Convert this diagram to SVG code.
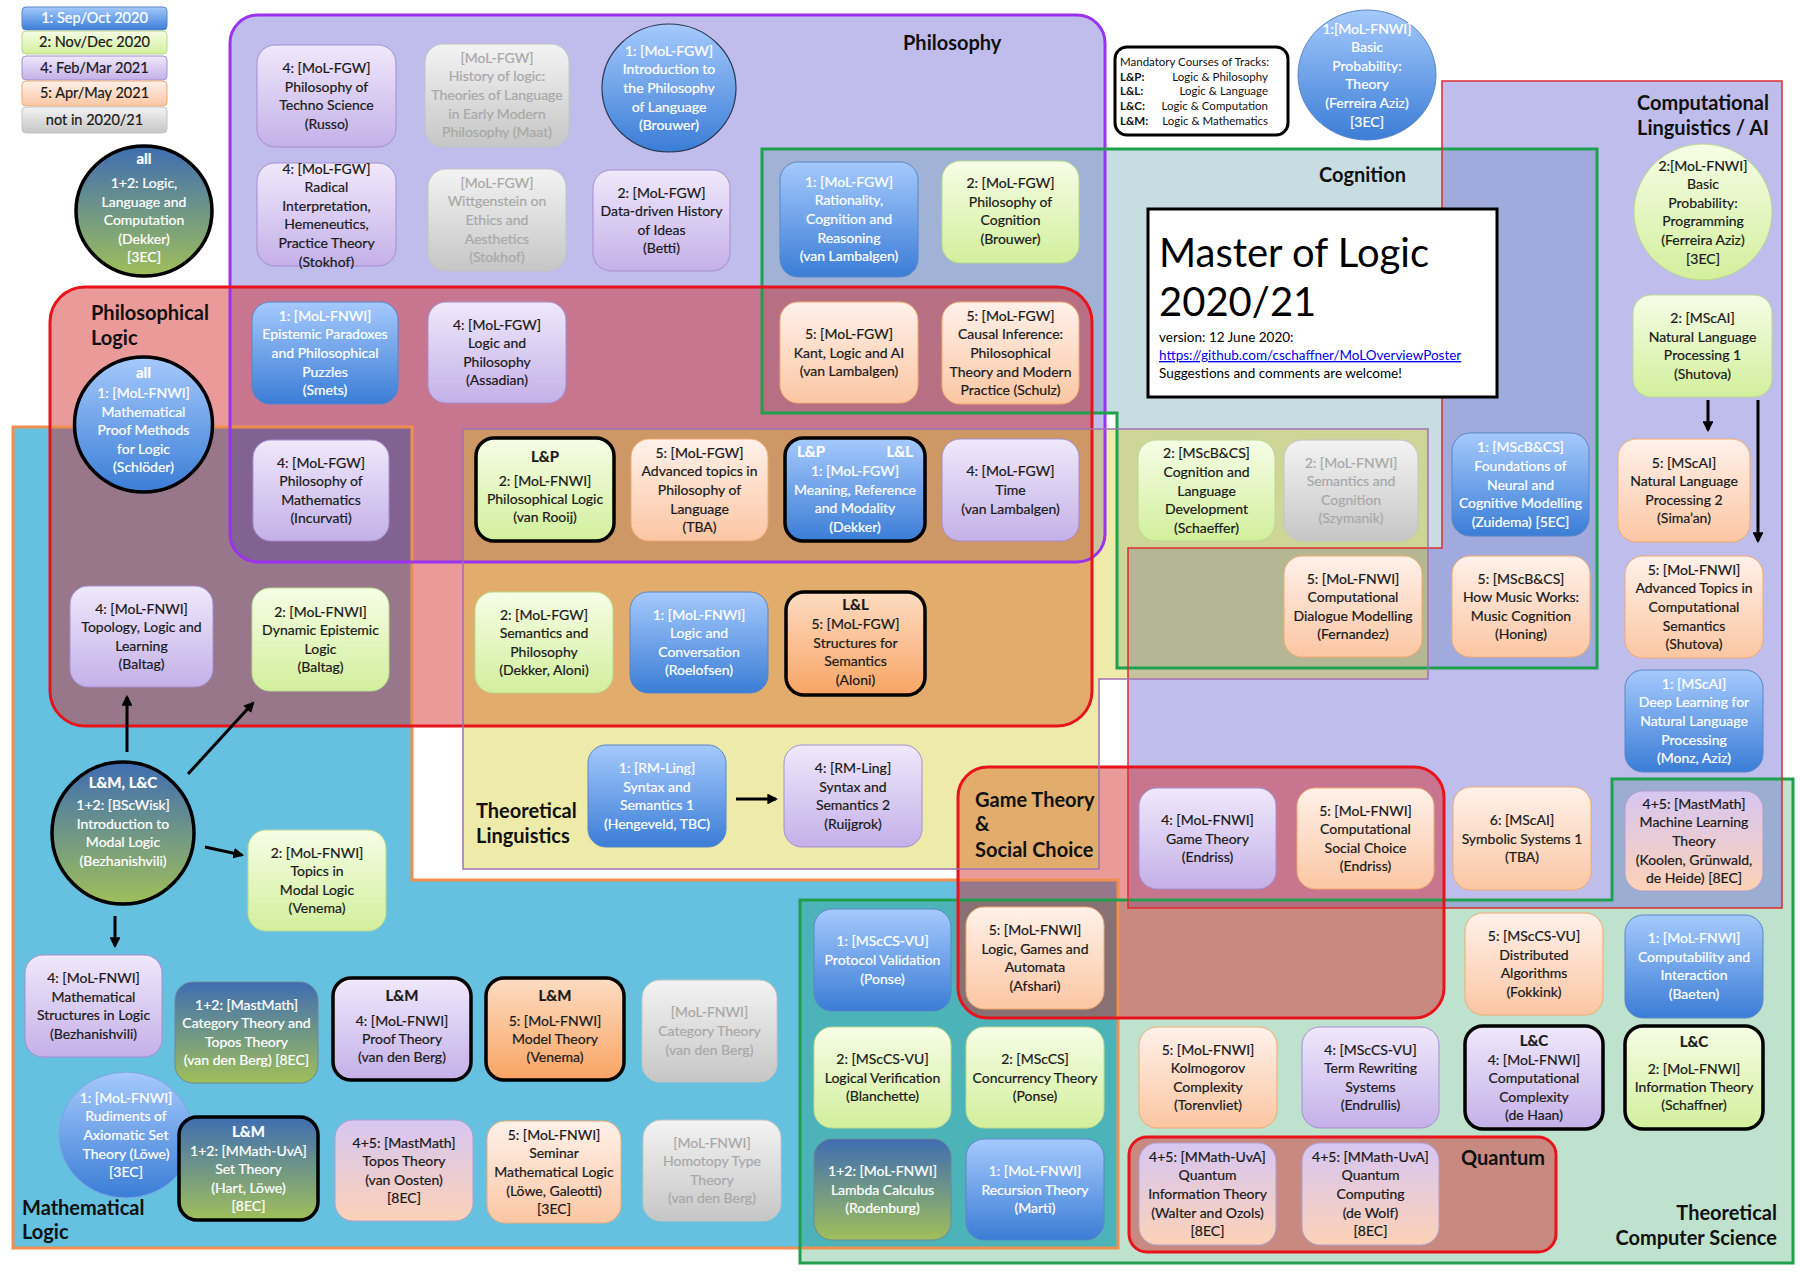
<svg xmlns="http://www.w3.org/2000/svg" width="1800" height="1272" viewBox="0 0 1800 1272">
<defs>
<linearGradient id="g1" x1="0" y1="0" x2="0" y2="1"><stop offset="0" stop-color="#a5c9fc"/><stop offset="1" stop-color="#3b7dd6"/></linearGradient>
<linearGradient id="g2" x1="0" y1="0" x2="0" y2="1"><stop offset="0" stop-color="#f6fde6"/><stop offset="1" stop-color="#d2ef9c"/></linearGradient>
<linearGradient id="g4" x1="0" y1="0" x2="0" y2="1"><stop offset="0" stop-color="#f0e8fb"/><stop offset="1" stop-color="#c4b0e8"/></linearGradient>
<linearGradient id="g5" x1="0" y1="0" x2="0" y2="1"><stop offset="0" stop-color="#fff1ea"/><stop offset="1" stop-color="#fbc6a3"/></linearGradient>
<linearGradient id="g5o" x1="0" y1="0" x2="0" y2="1"><stop offset="0" stop-color="#fddcc2"/><stop offset="1" stop-color="#f8a464"/></linearGradient>
<linearGradient id="gG" x1="0" y1="0" x2="0" y2="1"><stop offset="0" stop-color="#f3f3f3"/><stop offset="1" stop-color="#c6c6c6"/></linearGradient>
<linearGradient id="g12" x1="0" y1="0" x2="0" y2="1"><stop offset="0" stop-color="#3f6db2"/><stop offset="1" stop-color="#a0bf5a"/></linearGradient>
<linearGradient id="g45" x1="0" y1="0" x2="0" y2="1"><stop offset="0" stop-color="#d6c6f2"/><stop offset="1" stop-color="#fcd1b6"/></linearGradient>
<marker id="ah" viewBox="0 0 10 10" refX="8" refY="5" markerWidth="3.6" markerHeight="3.6" orient="auto"><path d="M0,0 L10,5 L0,10 z" fill="#000"/></marker>
<style>
.t{font-family:Lato,"Open Sans","Liberation Sans",sans-serif;font-size:14px;text-anchor:middle;fill:#1a1a1a;stroke:#1a1a1a;stroke-width:0.22}
.w{fill:#fff;stroke:#fff}
.gr{fill:#a9a9a9;stroke:#a9a9a9}
.bd{font-weight:bold;font-size:15px}
.lbl{font-family:Lato,"Liberation Sans",sans-serif;font-weight:bold;font-size:20px;fill:#111}
.m{font-family:Lato,"Liberation Sans",sans-serif;font-size:11.5px;fill:#111}
.mb{font-weight:bold}
.s1{fill:url(#g1);stroke:#5a86c6;stroke-width:1}
.s2{fill:url(#g2);stroke:#b9d98f;stroke-width:1}
.s4{fill:url(#g4);stroke:#a48fd0;stroke-width:1}
.s5{fill:url(#g5);stroke:#f0aa70;stroke-width:1}
.s5o{fill:url(#g5o);stroke:#f0aa70;stroke-width:1}
.sG{fill:url(#gG);stroke:#c4c4c4;stroke-width:1}
.s12{fill:url(#g12);stroke:#6a8a9a;stroke-width:1}
.s45{fill:url(#g45);stroke:#b0a0d0;stroke-width:1}
.k{stroke:#000;stroke-width:3.5}
.arr{stroke:#000;stroke-width:3;fill:none;marker-end:url(#ah)}
</style>
</defs>
<rect width="1800" height="1272" fill="#fff"/>

<g id="regions">
<path d="M13,427H412V880H1118V1248H13Z" fill="#66c0e0"/>
<rect x="230" y="15" width="875" height="547" rx="28" fill="rgb(150,143,223)" fill-opacity="0.6"/>
<path d="M762,149H1597V668H1117V413H762Z" fill="rgb(104,162,175)" fill-opacity="0.365"/>
<path d="M800,900H1612V779H1793V1263H800Z" fill="rgb(0,140,64)" fill-opacity="0.25"/>
<path d="M1442,81H1782V908H1128V548H1442Z" fill="rgb(108,103,211)" fill-opacity="0.436"/>
<rect x="50" y="287" width="1042" height="439" rx="35" fill="rgb(211,31,31)" fill-opacity="0.45"/>
<rect x="958" y="767" width="486" height="251" rx="30" fill="rgb(211,31,31)" fill-opacity="0.45"/>
<path d="M463,429H1428V679H1099V869H463Z" fill="rgb(212,202,40)" fill-opacity="0.4"/>
<rect x="1129" y="1137" width="427" height="115" rx="18" fill="rgb(211,31,31)" fill-opacity="0.45"/>
<path d="M231,428H411V561H258A27,27 0 0 1 231,534Z" fill="rgb(60,90,160)" fill-opacity="0.35"/>
</g>
<g id="region-borders">
<path d="M13,427H412V880H1118V1248H13Z" stroke="#ef8f4f" stroke-width="3" fill="none"/>
<rect x="230" y="15" width="875" height="547" rx="28" stroke="#9a32f0" stroke-width="3" fill="none"/>
<path d="M762,149H1597V668H1117V413H762Z" stroke="#1fa04e" stroke-width="3" fill="none"/>
<path d="M800,900H1612V779H1793V1263H800Z" stroke="#20a04f" stroke-width="3" fill="none"/>
<path d="M1442,81H1782V908H1128V548H1442Z" stroke="#dd2c2c" stroke-width="1.5" fill="none"/>
<rect x="50" y="287" width="1042" height="439" rx="35" stroke="#e8131b" stroke-width="3" fill="none"/>
<rect x="958" y="767" width="486" height="251" rx="30" stroke="#e8131b" stroke-width="3" fill="none"/>
<path d="M463,429H1428V679H1099V869H463Z" stroke="#a072b4" stroke-width="1.5" fill="none"/>
<rect x="1129" y="1137" width="427" height="115" rx="18" stroke="#e8131b" stroke-width="3" fill="none"/>
</g>
<g id="region-labels">
<text class="lbl" x="903" y="50">Philosophy</text>
<text class="lbl" x="91" y="320">Philosophical</text><text class="lbl" x="91" y="345">Logic</text>
<text class="lbl" x="476" y="818">Theoretical</text><text class="lbl" x="476" y="843">Linguistics</text>
<text class="lbl" x="1319" y="182">Cognition</text>
<text class="lbl" x="1769" y="110" text-anchor="end">Computational</text><text class="lbl" x="1769" y="135" text-anchor="end">Linguistics / AI</text>
<text class="lbl" x="975" y="807">Game Theory</text><text class="lbl" x="975" y="831">&amp;</text><text class="lbl" x="975" y="857">Social Choice</text>
<text class="lbl" x="1461" y="1165">Quantum</text>
<text class="lbl" x="1777" y="1220" text-anchor="end">Theoretical</text><text class="lbl" x="1777" y="1245" text-anchor="end">Computer Science</text>
<text class="lbl" x="22" y="1215">Mathematical</text><text class="lbl" x="22" y="1239">Logic</text>
</g>

<g id="legend">
<rect x="22" y="7" width="145" height="23" rx="4" class="s1"/><text class="t w" style="font-size:14.5px" x="94.5" y="23">1: Sep/Oct 2020</text>
<rect x="22" y="31" width="145" height="23" rx="4" class="s2"/><text class="t" style="font-size:14.5px" x="94.5" y="47">2: Nov/Dec 2020</text>
<rect x="22" y="56" width="145" height="24" rx="4" class="s4"/><text class="t" style="font-size:14.5px" x="94.5" y="73">4: Feb/Mar 2021</text>
<rect x="22" y="81" width="145" height="25" rx="4" class="s5"/><text class="t" style="font-size:14.5px" x="94.5" y="98">5: Apr/May 2021</text>
<rect x="22" y="107" width="145" height="26" rx="4" class="sG"/><text class="t" style="font-size:14.5px" x="94.5" y="125">not in 2020/21</text>
</g>

<g id="title">
<rect x="1148" y="209" width="349" height="188" fill="#fff" stroke="#000" stroke-width="3"/>
<text x="1159" y="267" style="font-family:Lato,'Liberation Sans',sans-serif;font-size:40px;fill:#000">Master of Logic</text>
<text x="1159" y="316" style="font-family:Lato,'Liberation Sans',sans-serif;font-size:40px;fill:#000">2020/21</text>
<text x="1159" y="342" style="font-family:Lato,'Liberation Sans',sans-serif;font-size:13.5px;fill:#000">version: 12 June 2020:</text>
<text x="1159" y="360" style="font-family:Lato,'Liberation Sans',sans-serif;font-size:13.5px;fill:#0000ee;text-decoration:underline">https://github.com/cschaffner/MoLOverviewPoster</text>
<text x="1159" y="378" style="font-family:Lato,'Liberation Sans',sans-serif;font-size:13.5px;fill:#000">Suggestions and comments are welcome!</text>
</g>

<g id="tracks">
<rect x="1115" y="47" width="173" height="88" rx="12" fill="#fff" stroke="#000" stroke-width="3"/>
<text class="m" x="1120" y="66">Mandatory  Courses of Tracks:</text>
<text class="m mb" x="1120" y="81">L&amp;P:</text><text class="m" x="1268" y="81" text-anchor="end">Logic &amp; Philosophy</text>
<text class="m mb" x="1120" y="95">L&amp;L:</text><text class="m" x="1268" y="95" text-anchor="end">Logic &amp; Language</text>
<text class="m mb" x="1120" y="110">L&amp;C:</text><text class="m" x="1268" y="110" text-anchor="end">Logic &amp; Computation</text>
<text class="m mb" x="1120" y="125">L&amp;M:</text><text class="m" x="1268" y="125" text-anchor="end">Logic &amp; Mathematics</text>
</g>

<g id="n-llc"><ellipse cx="144" cy="211" rx="68" ry="65" class="s12 k"/><text class="t w bd" x="144" y="164">all</text><text class="t w" x="144" y="188">1+2: Logic,<tspan x="144" dy="18.6">Language and</tspan><tspan x="144" dy="18.6">Computation</tspan><tspan x="144" dy="18.6">(Dekker)</tspan><tspan x="144" dy="18.6">[3EC]</tspan></text></g>

<g id="n-russo"><rect x="257" y="45" width="139" height="102" rx="18" class="s4"/><text class="t" x="326.5" y="73.1">4: [MoL-FGW]<tspan x="326.5" dy="18.6">Philosophy of</tspan><tspan x="326.5" dy="18.6">Techno Science</tspan><tspan x="326.5" dy="18.6">(Russo)</tspan></text></g>
<g id="n-radical"><rect x="257" y="163" width="139" height="103" rx="18" class="s4"/><text class="t" x="326.5" y="173.5">4: [MoL-FGW]<tspan x="326.5" dy="18.6">Radical</tspan><tspan x="326.5" dy="18.6">Interpretation,</tspan><tspan x="326.5" dy="18.6">Hemeneutics,</tspan><tspan x="326.5" dy="18.6">Practice Theory</tspan><tspan x="326.5" dy="18.6">(Stokhof)</tspan></text></g>
<g id="n-history"><rect x="425" y="44" width="144" height="103" rx="18" class="sG"/><text class="t gr" x="497" y="62.8">[MoL-FGW]<tspan x="497" dy="18.6">History of logic:</tspan><tspan x="497" dy="18.6">Theories of Language</tspan><tspan x="497" dy="18.6">in Early Modern</tspan><tspan x="497" dy="18.6">Philosophy (Maat)</tspan></text></g>
<g id="n-intro-phil-lang"><ellipse cx="669" cy="88" rx="67" ry="64" fill="url(#g1)" stroke="#2a3a55" stroke-width="1.2"/><text class="t w" x="669" y="55.8">1: [MoL-FGW]<tspan x="669" dy="18.6">Introduction to</tspan><tspan x="669" dy="18.6">the Philosophy</tspan><tspan x="669" dy="18.6">of Language</tspan><tspan x="669" dy="18.6">(Brouwer)</tspan></text></g>
<g id="n-wittgenstein"><rect x="428" y="169" width="138" height="102" rx="18" class="sG"/><text class="t gr" x="497" y="187.8">[MoL-FGW]<tspan x="497" dy="18.6">Wittgenstein on</tspan><tspan x="497" dy="18.6">Ethics and</tspan><tspan x="497" dy="18.6">Aesthetics</tspan><tspan x="497" dy="18.6">(Stokhof)</tspan></text></g>
<g id="n-datadriven"><rect x="593" y="170" width="137" height="101" rx="18" class="s4"/><text class="t" x="661.5" y="197.6">2: [MoL-FGW]<tspan x="661.5" dy="18.6">Data-driven History</tspan><tspan x="661.5" dy="18.6">of Ideas</tspan><tspan x="661.5" dy="18.6">(Betti)</tspan></text></g>
<g id="n-rationality"><rect x="780" y="162" width="138" height="115" rx="18" class="s1"/><text class="t w" x="849" y="186.8">1: [MoL-FGW]<tspan x="849" dy="18.6">Rationality,</tspan><tspan x="849" dy="18.6">Cognition and</tspan><tspan x="849" dy="18.6">Reasoning</tspan><tspan x="849" dy="18.6">(van Lambalgen)</tspan></text></g>
<g id="n-phil-cognition"><rect x="942" y="161" width="137" height="102" rx="18" class="s2"/><text class="t" x="1010.5" y="188.1">2: [MoL-FGW]<tspan x="1010.5" dy="18.6">Philosophy of</tspan><tspan x="1010.5" dy="18.6">Cognition</tspan><tspan x="1010.5" dy="18.6">(Brouwer)</tspan></text></g>

<g id="n-proof-methods"><ellipse cx="143.5" cy="424.5" rx="69" ry="67.5" class="s1 k"/><text class="t w bd" x="143.5" y="377.5">all</text><text class="t w" x="143.5" y="398">1: [MoL-FNWI]<tspan x="143.5" dy="18.6">Mathematical</tspan><tspan x="143.5" dy="18.6">Proof Methods</tspan><tspan x="143.5" dy="18.6">for Logic</tspan><tspan x="143.5" dy="18.6">(Schlöder)</tspan></text></g>
<g id="n-epistemic"><rect x="252" y="302" width="146" height="102" rx="18" class="s1"/><text class="t w" x="325" y="320.8">1: [MoL-FNWI]<tspan x="325" dy="18.6">Epistemic Paradoxes</tspan><tspan x="325" dy="18.6">and Philosophical</tspan><tspan x="325" dy="18.6">Puzzles</tspan><tspan x="325" dy="18.6">(Smets)</tspan></text></g>
<g id="n-logic-phil"><rect x="428" y="302" width="138" height="101" rx="18" class="s4"/><text class="t" x="497" y="329.6">4: [MoL-FGW]<tspan x="497" dy="18.6">Logic and</tspan><tspan x="497" dy="18.6">Philosophy</tspan><tspan x="497" dy="18.6">(Assadian)</tspan></text></g>
<g id="n-kant"><rect x="780" y="302" width="138" height="101" rx="18" class="s5"/><text class="t" x="849" y="338.9">5: [MoL-FGW]<tspan x="849" dy="18.6">Kant, Logic and AI</tspan><tspan x="849" dy="18.6">(van Lambalgen)</tspan></text></g>
<g id="n-causal"><rect x="942" y="302" width="137" height="102" rx="18" class="s5"/><text class="t" x="1010.5" y="320.8">5: [MoL-FGW]<tspan x="1010.5" dy="18.6">Causal Inference:</tspan><tspan x="1010.5" dy="18.6">Philosophical</tspan><tspan x="1010.5" dy="18.6">Theory and Modern</tspan><tspan x="1010.5" dy="18.6">Practice (Schulz)</tspan></text></g>
<g id="n-phil-math"><rect x="253" y="440" width="136" height="101" rx="18" class="s4"/><text class="t" x="321" y="467.6">4: [MoL-FGW]<tspan x="321" dy="18.6">Philosophy of</tspan><tspan x="321" dy="18.6">Mathematics</tspan><tspan x="321" dy="18.6">(Incurvati)</tspan></text></g>
<g id="n-topology"><rect x="70" y="586" width="143" height="101" rx="18" class="s4"/><text class="t" x="141.5" y="613.6">4: [MoL-FNWI]<tspan x="141.5" dy="18.6">Topology, Logic and</tspan><tspan x="141.5" dy="18.6">Learning</tspan><tspan x="141.5" dy="18.6">(Baltag)</tspan></text></g>
<g id="n-del"><rect x="252" y="588" width="137" height="103" rx="18" class="s2"/><text class="t" x="320.5" y="616.6">2: [MoL-FNWI]<tspan x="320.5" dy="18.6">Dynamic Epistemic</tspan><tspan x="320.5" dy="18.6">Logic</tspan><tspan x="320.5" dy="18.6">(Baltag)</tspan></text></g>

<g id="n-phil-logic"><rect x="476" y="438" width="138" height="103" rx="18" class="s2 k"/><text class="t bd" x="545" y="461.5">L&amp;P</text><text class="t" x="545" y="486">2: [MoL-FNWI]<tspan x="545" dy="18">Philosophical Logic</tspan><tspan x="545" dy="18">(van Rooij)</tspan></text></g>
<g id="n-adv-phil-lang"><rect x="631" y="439" width="137" height="102" rx="18" class="s5"/><text class="t" x="699.5" y="457.8">5: [MoL-FGW]<tspan x="699.5" dy="18.6">Advanced topics in</tspan><tspan x="699.5" dy="18.6">Philosophy of</tspan><tspan x="699.5" dy="18.6">Language</tspan><tspan x="699.5" dy="18.6">(TBA)</tspan></text></g>
<g id="n-meaning"><rect x="785" y="438" width="140" height="103" rx="18" class="s1 k"/><text class="t w bd" x="797" y="457" style="text-anchor:start">L&amp;P</text><text class="t w bd" x="913" y="457" style="text-anchor:end">L&amp;L</text><text class="t w" x="855" y="476">1: [MoL-FGW]<tspan x="855" dy="18.5">Meaning, Reference</tspan><tspan x="855" dy="18.5">and Modality</tspan><tspan x="855" dy="18.5">(Dekker)</tspan></text></g>
<g id="n-time"><rect x="942" y="439" width="137" height="102" rx="18" class="s4"/><text class="t" x="1010.5" y="476.4">4: [MoL-FGW]<tspan x="1010.5" dy="18.6">Time</tspan><tspan x="1010.5" dy="18.6">(van Lambalgen)</tspan></text></g>
<g id="n-sem-phil"><rect x="475" y="592" width="138" height="101" rx="18" class="s2"/><text class="t" x="544" y="619.6">2: [MoL-FGW]<tspan x="544" dy="18.6">Semantics and</tspan><tspan x="544" dy="18.6">Philosophy</tspan><tspan x="544" dy="18.6">(Dekker, Aloni)</tspan></text></g>
<g id="n-logic-conv"><rect x="630" y="592" width="138" height="101" rx="18" class="s1"/><text class="t w" x="699" y="619.6">1: [MoL-FNWI]<tspan x="699" dy="18.6">Logic and</tspan><tspan x="699" dy="18.6">Conversation</tspan><tspan x="699" dy="18.6">(Roelofsen)</tspan></text></g>
<g id="n-structures"><rect x="786" y="592" width="139" height="103" rx="18" class="s5o k"/><text class="t bd" x="855.5" y="609.5">L&amp;L</text><text class="t" x="855.5" y="629">5: [MoL-FGW]<tspan x="855.5" dy="18.7">Structures for</tspan><tspan x="855.5" dy="18.7">Semantics</tspan><tspan x="855.5" dy="18.7">(Aloni)</tspan></text></g>
<g id="n-syntax1"><rect x="588" y="745" width="138" height="102" rx="18" class="s1"/><text class="t w" x="657" y="773.1">1: [RM-Ling]<tspan x="657" dy="18.6">Syntax and</tspan><tspan x="657" dy="18.6">Semantics 1</tspan><tspan x="657" dy="18.6">(Hengeveld, TBC)</tspan></text></g>
<g id="n-syntax2"><rect x="784" y="745" width="138" height="102" rx="18" class="s4"/><text class="t" x="853" y="773.1">4: [RM-Ling]<tspan x="853" dy="18.6">Syntax and</tspan><tspan x="853" dy="18.6">Semantics 2</tspan><tspan x="853" dy="18.6">(Ruijgrok)</tspan></text></g>

<g id="n-cog-lang"><rect x="1138" y="440" width="137" height="101" rx="18" class="s2"/><text class="t" x="1206.5" y="458.3">2: [MScB&amp;CS]<tspan x="1206.5" dy="18.6">Cognition and</tspan><tspan x="1206.5" dy="18.6">Language</tspan><tspan x="1206.5" dy="18.6">Development</tspan><tspan x="1206.5" dy="18.6">(Schaeffer)</tspan></text></g>
<g id="n-sem-cog"><rect x="1284" y="440" width="134" height="101" rx="18" class="sG"/><text class="t gr" x="1351" y="467.6">2: [MoL-FNWI]<tspan x="1351" dy="18.6">Semantics and</tspan><tspan x="1351" dy="18.6">Cognition</tspan><tspan x="1351" dy="18.6">(Szymanik)</tspan></text></g>
<g id="n-dialogue"><rect x="1284" y="556" width="138" height="101" rx="18" class="s5"/><text class="t" x="1353" y="583.6">5: [MoL-FNWI]<tspan x="1353" dy="18.6">Computational</tspan><tspan x="1353" dy="18.6">Dialogue Modelling</tspan><tspan x="1353" dy="18.6">(Fernandez)</tspan></text></g>
<g id="n-neural"><rect x="1452" y="433" width="137" height="103" rx="18" class="s1"/><text class="t w" x="1520.5" y="452.3">1: [MScB&amp;CS]<tspan x="1520.5" dy="18.6">Foundations of</tspan><tspan x="1520.5" dy="18.6">Neural and</tspan><tspan x="1520.5" dy="18.6">Cognitive Modelling</tspan><tspan x="1520.5" dy="18.6">(Zuidema) [5EC]</tspan></text></g>
<g id="n-music"><rect x="1452" y="556" width="138" height="101" rx="18" class="s5"/><text class="t" x="1521" y="583.6">5: [MScB&amp;CS]<tspan x="1521" dy="18.6">How Music Works:</tspan><tspan x="1521" dy="18.6">Music Cognition</tspan><tspan x="1521" dy="18.6">(Honing)</tspan></text></g>

<g id="n-prob-theory"><ellipse cx="1367" cy="75" rx="69" ry="65" fill="url(#g1)" stroke="#5a86c6" stroke-width="1"/><text class="t w" x="1367" y="33.5">1:[MoL-FNWI]<tspan x="1367" dy="18.6">Basic</tspan><tspan x="1367" dy="18.6">Probability:</tspan><tspan x="1367" dy="18.6">Theory</tspan><tspan x="1367" dy="18.6">(Ferreira Aziz)</tspan><tspan x="1367" dy="18.6">[3EC]</tspan></text></g>
<g id="n-prob-prog"><ellipse cx="1703" cy="212" rx="69" ry="68" class="s2"/><text class="t" x="1703" y="170.5">2:[MoL-FNWI]<tspan x="1703" dy="18.6">Basic</tspan><tspan x="1703" dy="18.6">Probability:</tspan><tspan x="1703" dy="18.6">Programming</tspan><tspan x="1703" dy="18.6">(Ferreira Aziz)</tspan><tspan x="1703" dy="18.6">[3EC]</tspan></text></g>
<g id="n-nlp1"><rect x="1633" y="295" width="139" height="102" rx="18" class="s2"/><text class="t" x="1702.5" y="323.1">2: [MScAI]<tspan x="1702.5" dy="18.6">Natural Language</tspan><tspan x="1702.5" dy="18.6">Processing 1</tspan><tspan x="1702.5" dy="18.6">(Shutova)</tspan></text></g>
<g id="n-nlp2"><rect x="1618" y="439" width="132" height="103" rx="18" class="s5"/><text class="t" x="1684" y="467.6">5: [MScAI]<tspan x="1684" dy="18.6">Natural Language</tspan><tspan x="1684" dy="18.6">Processing 2</tspan><tspan x="1684" dy="18.6">(Sima’an)</tspan></text></g>
<g id="n-adv-comp-sem"><rect x="1625" y="556" width="138" height="102" rx="18" class="s5"/><text class="t" x="1694" y="574.8">5: [MoL-FNWI]<tspan x="1694" dy="18.6">Advanced Topics in</tspan><tspan x="1694" dy="18.6">Computational</tspan><tspan x="1694" dy="18.6">Semantics</tspan><tspan x="1694" dy="18.6">(Shutova)</tspan></text></g>
<g id="n-deep"><rect x="1625" y="670" width="138" height="102" rx="18" class="s1"/><text class="t w" x="1694" y="688.8">1: [MScAI]<tspan x="1694" dy="18.6">Deep Learning for</tspan><tspan x="1694" dy="18.6">Natural Language</tspan><tspan x="1694" dy="18.6">Processing</tspan><tspan x="1694" dy="18.6">(Monz, Aziz)</tspan></text></g>
<g id="n-ml-theory"><rect x="1625" y="791" width="138" height="100" rx="18" class="s45"/><text class="t" x="1694" y="808.8">4+5: [MastMath]<tspan x="1694" dy="18.6">Machine Learning</tspan><tspan x="1694" dy="18.6">Theory</tspan><tspan x="1694" dy="18.6">(Koolen, Grünwald,</tspan><tspan x="1694" dy="18.6">de Heide) [8EC]</tspan></text></g>

<g id="n-game-theory"><rect x="1139" y="788" width="137" height="101" rx="18" class="s4"/><text class="t" x="1207.5" y="824.9">4: [MoL-FNWI]<tspan x="1207.5" dy="18.6">Game Theory</tspan><tspan x="1207.5" dy="18.6">(Endriss)</tspan></text></g>
<g id="n-comsoc"><rect x="1297" y="788" width="137" height="101" rx="18" class="s5"/><text class="t" x="1365.5" y="815.6">5: [MoL-FNWI]<tspan x="1365.5" dy="18.6">Computational</tspan><tspan x="1365.5" dy="18.6">Social Choice</tspan><tspan x="1365.5" dy="18.6">(Endriss)</tspan></text></g>
<g id="n-symbolic"><rect x="1453" y="787" width="138" height="103" rx="18" class="s5"/><text class="t" x="1522" y="824.9">6: [MScAI]<tspan x="1522" dy="18.6">Symbolic Systems 1</tspan><tspan x="1522" dy="18.6">(TBA)</tspan></text></g>

<g id="n-protocol"><rect x="814" y="909" width="137" height="102" rx="18" class="s1"/><text class="t w" x="882.5" y="946.4">1: [MScCS-VU]<tspan x="882.5" dy="18.6">Protocol Validation</tspan><tspan x="882.5" dy="18.6">(Ponse)</tspan></text></g>
<g id="n-lga"><rect x="966" y="907" width="138" height="102" rx="18" class="s5"/><text class="t" x="1035" y="935.1">5: [MoL-FNWI]<tspan x="1035" dy="18.6">Logic, Games and</tspan><tspan x="1035" dy="18.6">Automata</tspan><tspan x="1035" dy="18.6">(Afshari)</tspan></text></g>
<g id="n-logver"><rect x="814" y="1027" width="137" height="101" rx="18" class="s2"/><text class="t" x="882.5" y="1063.9">2: [MScCS-VU]<tspan x="882.5" dy="18.6">Logical Verification</tspan><tspan x="882.5" dy="18.6">(Blanchette)</tspan></text></g>
<g id="n-concurrency"><rect x="966" y="1027" width="138" height="101" rx="18" class="s2"/><text class="t" x="1035" y="1063.9">2: [MScCS]<tspan x="1035" dy="18.6">Concurrency Theory</tspan><tspan x="1035" dy="18.6">(Ponse)</tspan></text></g>
<g id="n-lambda"><rect x="814" y="1139" width="137" height="101" rx="18" class="s12"/><text class="t w" x="882.5" y="1175.9">1+2: [MoL-FNWI]<tspan x="882.5" dy="18.6">Lambda Calculus</tspan><tspan x="882.5" dy="18.6">(Rodenburg)</tspan></text></g>
<g id="n-recursion"><rect x="966" y="1139" width="138" height="101" rx="18" class="s1"/><text class="t w" x="1035" y="1175.9">1: [MoL-FNWI]<tspan x="1035" dy="18.6">Recursion Theory</tspan><tspan x="1035" dy="18.6">(Marti)</tspan></text></g>
<g id="n-kolmogorov"><rect x="1139" y="1027" width="138" height="101" rx="18" class="s5"/><text class="t" x="1208" y="1054.6">5: [MoL-FNWI]<tspan x="1208" dy="18.6">Kolmogorov</tspan><tspan x="1208" dy="18.6">Complexity</tspan><tspan x="1208" dy="18.6">(Torenvliet)</tspan></text></g>
<g id="n-term-rewriting"><rect x="1302" y="1027" width="137" height="101" rx="18" class="s4"/><text class="t" x="1370.5" y="1054.6">4: [MScCS-VU]<tspan x="1370.5" dy="18.6">Term Rewriting</tspan><tspan x="1370.5" dy="18.6">Systems</tspan><tspan x="1370.5" dy="18.6">(Endrullis)</tspan></text></g>
<g id="n-distributed"><rect x="1465" y="913" width="138" height="102" rx="18" class="s5"/><text class="t" x="1534" y="941.1">5: [MScCS-VU]<tspan x="1534" dy="18.6">Distributed</tspan><tspan x="1534" dy="18.6">Algorithms</tspan><tspan x="1534" dy="18.6">(Fokkink)</tspan></text></g>
<g id="n-computability"><rect x="1625" y="915" width="138" height="103" rx="18" class="s1"/><text class="t w" x="1694" y="943.1">1: [MoL-FNWI]<tspan x="1694" dy="18.6">Computability and</tspan><tspan x="1694" dy="18.6">Interaction</tspan><tspan x="1694" dy="18.6">(Baeten)</tspan></text></g>
<g id="n-complexity"><rect x="1465" y="1026" width="138" height="103" rx="18" class="s4 k"/><text class="t bd" x="1534" y="1045.5">L&amp;C</text><text class="t" x="1534" y="1065">4: [MoL-FNWI]<tspan x="1534" dy="18.4">Computational</tspan><tspan x="1534" dy="18.4">Complexity</tspan><tspan x="1534" dy="18.4">(de Haan)</tspan></text></g>
<g id="n-info-theory"><rect x="1625" y="1026" width="138" height="103" rx="18" class="s2 k"/><text class="t bd" x="1694" y="1046.5">L&amp;C</text><text class="t" x="1694" y="1074">2: [MoL-FNWI]<tspan x="1694" dy="18">Information Theory</tspan><tspan x="1694" dy="18">(Schaffner)</tspan></text></g>
<g id="n-qit"><rect x="1139" y="1143" width="137" height="102" rx="18" class="s45"/><text class="t" x="1207.5" y="1161.8">4+5: [MMath-UvA]<tspan x="1207.5" dy="18.6">Quantum</tspan><tspan x="1207.5" dy="18.6">Information Theory</tspan><tspan x="1207.5" dy="18.6">(Walter and Ozols)</tspan><tspan x="1207.5" dy="18.6">[8EC]</tspan></text></g>
<g id="n-qc"><rect x="1302" y="1143" width="137" height="102" rx="18" class="s45"/><text class="t" x="1370.5" y="1161.8">4+5: [MMath-UvA]<tspan x="1370.5" dy="18.6">Quantum</tspan><tspan x="1370.5" dy="18.6">Computing</tspan><tspan x="1370.5" dy="18.6">(de Wolf)</tspan><tspan x="1370.5" dy="18.6">[8EC]</tspan></text></g>

<g id="n-modal"><ellipse cx="123" cy="833" rx="71" ry="71" class="s12 k"/><text class="t w bd" x="123" y="787.5">L&amp;M, L&amp;C</text><text class="t w" x="123" y="810">1+2:  [BScWisk]<tspan x="123" dy="18.7">Introduction to</tspan><tspan x="123" dy="18.7">Modal Logic</tspan><tspan x="123" dy="18.7">(Bezhanishvili)</tspan></text></g>
<g id="n-topics-modal"><rect x="248" y="830" width="138" height="101" rx="18" class="s2"/><text class="t" x="317" y="857.6">2: [MoL-FNWI]<tspan x="317" dy="18.6">Topics in</tspan><tspan x="317" dy="18.6">Modal Logic</tspan><tspan x="317" dy="18.6">(Venema)</tspan></text></g>
<g id="n-math-struct"><rect x="25" y="955" width="137" height="102" rx="18" class="s4"/><text class="t" x="93.5" y="983.1">4: [MoL-FNWI]<tspan x="93.5" dy="18.6">Mathematical</tspan><tspan x="93.5" dy="18.6">Structures in Logic</tspan><tspan x="93.5" dy="18.6">(Bezhanishvili)</tspan></text></g>
<g id="n-cat-topos"><rect x="175" y="982" width="143" height="101" rx="18" class="s12"/><text class="t w" x="246.5" y="1009.6">1+2: [MastMath]<tspan x="246.5" dy="18.6">Category Theory and</tspan><tspan x="246.5" dy="18.6">Topos Theory</tspan><tspan x="246.5" dy="18.6">(van den Berg) [8EC]</tspan></text></g>
<g id="n-proof-theory"><rect x="333" y="978" width="138" height="102" rx="18" class="s4 k"/><text class="t bd" x="402" y="1000.5">L&amp;M</text><text class="t" x="402" y="1026">4: [MoL-FNWI]<tspan x="402" dy="18">Proof Theory</tspan><tspan x="402" dy="18">(van den Berg)</tspan></text></g>
<g id="n-model-theory"><rect x="486" y="978" width="138" height="102" rx="18" class="s5o k"/><text class="t bd" x="555" y="1000.5">L&amp;M</text><text class="t" x="555" y="1026">5: [MoL-FNWI]<tspan x="555" dy="18">Model Theory</tspan><tspan x="555" dy="18">(Venema)</tspan></text></g>
<g id="n-cat-theory"><rect x="642" y="980" width="135" height="102" rx="18" class="sG"/><text class="t gr" x="709.5" y="1017.4">[MoL-FNWI]<tspan x="709.5" dy="18.6">Category Theory</tspan><tspan x="709.5" dy="18.6">(van den Berg)</tspan></text></g>
<g id="n-rudiments"><ellipse cx="126" cy="1135" rx="67" ry="63" fill="url(#g1)" stroke="#7aa6e6" stroke-width="1"/><text class="t w" x="126" y="1102.8">1: [MoL-FNWI]<tspan x="126" dy="18.6">Rudiments of</tspan><tspan x="126" dy="18.6">Axiomatic Set</tspan><tspan x="126" dy="18.6">Theory (Löwe)</tspan><tspan x="126" dy="18.6">[3EC]</tspan></text></g>
<g id="n-set-theory"><rect x="179" y="1117" width="139" height="103" rx="18" class="s12 k"/><text class="t w bd" x="248.5" y="1136.5">L&amp;M</text><text class="t w" x="248.5" y="1156">1+2: [MMath-UvA]<tspan x="248.5" dy="18.4">Set Theory</tspan><tspan x="248.5" dy="18.4">(Hart, Löwe)</tspan><tspan x="248.5" dy="18.4">[8EC]</tspan></text></g>
<g id="n-topos"><rect x="335" y="1120" width="138" height="101" rx="18" class="s45"/><text class="t" x="404" y="1147.6">4+5: [MastMath]<tspan x="404" dy="18.6">Topos Theory</tspan><tspan x="404" dy="18.6">(van Oosten)</tspan><tspan x="404" dy="18.6">[8EC]</tspan></text></g>
<g id="n-seminar"><rect x="487" y="1121" width="134" height="102" rx="18" class="s5"/><text class="t" x="554" y="1139.8">5: [MoL-FNWI]<tspan x="554" dy="18.6">Seminar</tspan><tspan x="554" dy="18.6">Mathematical Logic</tspan><tspan x="554" dy="18.6">(Löwe, Galeotti)</tspan><tspan x="554" dy="18.6">[3EC]</tspan></text></g>
<g id="n-hott"><rect x="643" y="1120" width="138" height="101" rx="18" class="sG"/><text class="t gr" x="712" y="1147.6">[MoL-FNWI]<tspan x="712" dy="18.6">Homotopy Type</tspan><tspan x="712" dy="18.6">Theory</tspan><tspan x="712" dy="18.6">(van den Berg)</tspan></text></g>

<g id="connectors">
<line x1="127" y1="752" x2="127" y2="697" class="arr"/>
<line x1="188" y1="774" x2="253" y2="703" class="arr"/>
<line x1="205" y1="847" x2="242" y2="855" class="arr"/>
<line x1="115" y1="916" x2="115" y2="946" class="arr"/>
<line x1="736" y1="799" x2="776" y2="799" class="arr"/>
<line x1="1708" y1="400" x2="1708" y2="430" class="arr"/>
<line x1="1758" y1="400" x2="1758" y2="541" class="arr"/>
</g>
</svg>
